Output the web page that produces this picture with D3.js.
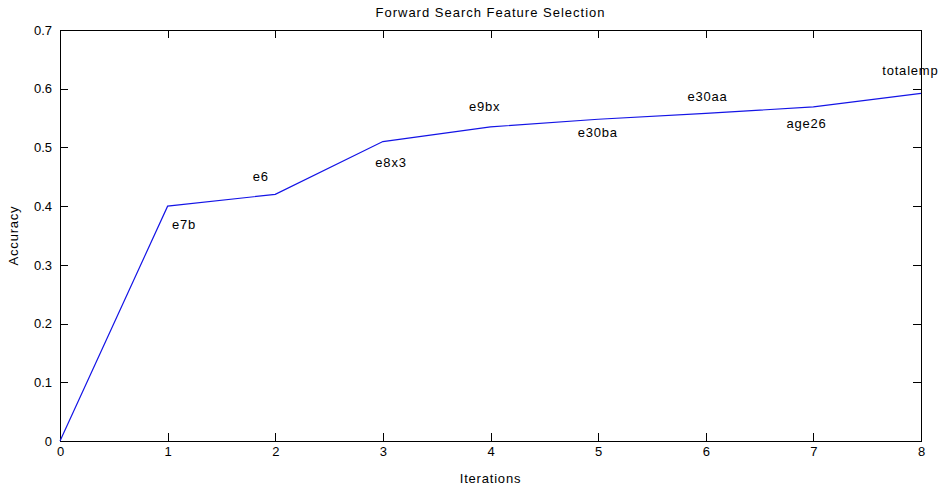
<html>
<head>
<script src="https://d3js.org/d3.v7.min.js"></script>
<style>
  body { margin: 0; background: #fff; }
  text { font-family: "Liberation Sans", Arial, sans-serif; fill: #000; }
  .axis path, .axis line { stroke: #000; stroke-width: 1; shape-rendering: crispEdges; }
</style>
</head>
<body>
<svg id="chart" width="943" height="487"></svg>
<script>
// data
const iterations = [0, 1, 2, 3, 4, 5, 6, 7, 8];
const accuracy = [0, 0.40, 0.42, 0.51, 0.535, 0.548, 0.558, 0.569, 0.592];
const features = ["e7b", "e6", "e8x3", "e9bx", "e30ba", "e30aa", "age26", "totalemp"];
// where each feature name sits, in data units (left edge x, middle y)
const labelX = [1.04, 1.79, 2.93, 3.80, 4.81, 5.83, 6.75, 7.64];
const labelY = [0.368, 0.45, 0.474, 0.569, 0.525, 0.586, 0.540, 0.631];
const xTicks = [0, 1, 2, 3, 4, 5, 6, 7, 8];
const yTicks = [0, 0.1, 0.2, 0.3, 0.4, 0.5, 0.6, 0.7];

const svg = d3.select('svg#chart');
const margin = { top: 30, right: 22, bottom: 46, left: 60 };
const width = +svg.attr('width');
const height = +svg.attr('height');
const chartWidth = width - margin.left - margin.right;
const chartHeight = height - margin.top - margin.bottom;

const x = d3.scaleLinear().domain([0, 8]).range([0, chartWidth]);
const y = d3.scaleLinear().domain([0, 0.7]).range([chartHeight, 0]);

const chart = svg.append('g')
  .attr('transform', `translate(${margin.left},${margin.top})`);

const tickFont = g => g.selectAll('text')
  .style('font-size', '13px')
  .attr('fill', '#000');

// bottom & left axes, ticks point inward
chart.append('g')
  .attr('class', 'axis')
  .attr('transform', `translate(0,${chartHeight})`)
  .call(d3.axisBottom(x).tickValues(xTicks).tickSize(-8).tickPadding(6).tickSizeOuter(0).tickFormat(d3.format('d')))
  .call(tickFont);

chart.append('g')
  .attr('class', 'axis')
  .call(d3.axisLeft(y).tickValues(yTicks).tickSize(-8).tickPadding(8).tickSizeOuter(0).tickFormat(d => d === 0 ? '0' : d3.format('.1f')(d)))
  .call(tickFont);

// mirrored top & right
chart.append('g')
  .attr('class', 'axis')
  .call(d3.axisTop(x).tickValues(xTicks).tickSize(-8).tickSizeOuter(0).tickFormat(''));

chart.append('g')
  .attr('class', 'axis')
  .attr('transform', `translate(${chartWidth},0)`)
  .call(d3.axisRight(y).tickValues(yTicks).tickSize(-8).tickSizeOuter(0).tickFormat(''));

// the line
const line = d3.line()
  .x((d, i) => x(iterations[i]))
  .y(d => y(d));

chart.append('path')
  .datum(accuracy)
  .attr('d', line)
  .attr('fill', 'none')
  .attr('stroke', '#1414e6')
  .attr('stroke-width', 1.2);

// feature names
chart.selectAll('text.feat')
  .data(features)
  .join('text')
  .attr('class', 'feat')
  .attr('x', (d, i) => x(labelX[i]))
  .attr('y', (d, i) => y(labelY[i]))
  .attr('dy', '0.35em')
  .style('font-size', '13px')
  .style('letter-spacing', '0.8px')
  .text(d => d);

// title and axis labels
svg.append('text')
  .attr('x', margin.left + chartWidth / 2)
  .attr('y', 17)
  .attr('text-anchor', 'middle')
  .style('font-size', '13px')
  .style('letter-spacing', '1px')
  .text('Forward Search Feature Selection');

svg.append('text')
  .attr('x', margin.left + chartWidth / 2)
  .attr('y', 483)
  .attr('text-anchor', 'middle')
  .style('font-size', '13px')
  .style('letter-spacing', '0.8px')
  .text('Iterations');

svg.append('text')
  .attr('transform', `translate(18,${margin.top + chartHeight / 2}) rotate(-90)`)
  .attr('text-anchor', 'middle')
  .style('font-size', '13px')
  .style('letter-spacing', '0.8px')
  .text('Accuracy');
</script>
</body>
</html>
